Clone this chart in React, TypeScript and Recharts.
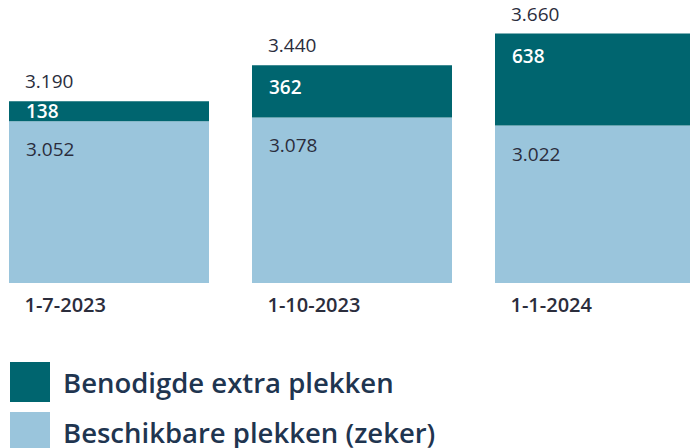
import React from 'react';
import { BarChart, Bar, XAxis, YAxis, LabelList, Legend } from 'recharts';

const dates = ['1-7-2023', '1-10-2023', '1-1-2024'];
const available = [3052, 3078, 3022];
const extra = [138, 362, 638];
const totals = [3190, 3440, 3660];

const DARK = '#00656F';
const LIGHT = '#9AC5DC';
const TEXT = '#2B2D3C';
const FONT = '"Open Sans", "DejaVu Sans", sans-serif';

const data = dates.map((d, i) => ({
  date: d,
  available: available[i],
  extra: extra[i],
  total: totals[i],
}));

// dutch thousands separator
const fmt = (v: number) => String(v).replace(/\B(?=(\d{3})+(?!\d))/g, '.');

const TotalLabel = (props: any) => {
  const { x, y, index } = props;
  return (
    <text x={x + 16} y={y - 13} fill={TEXT} fontSize={19} fontFamily={FONT}>
      {fmt(totals[index])}
    </text>
  );
};

const ExtraLabel = (props: any) => {
  const { x, y, height, value } = props;
  const mid = y + Math.min(height / 2, 22);
  return (
    <text x={x + 17} y={mid + 7} fill="#fff" fontSize={19} fontWeight={600} fontFamily={FONT}>
      {fmt(value)}
    </text>
  );
};

const AvailableLabel = (props: any) => {
  const { x, y, value } = props;
  return (
    <text x={x + 17} y={y + 35} fill={TEXT} fontSize={19} fontFamily={FONT}>
      {fmt(value)}
    </text>
  );
};

const DateTick = (props: any) => {
  const { x, y, payload } = props;
  return (
    <text x={x - 84} y={y + 29} fill={TEXT} fontSize={20} fontWeight={600} fontFamily={FONT}>
      {payload.value}
    </text>
  );
};

const legendItems = [
  { label: 'Benodigde extra plekken', color: DARK },
  { label: 'Beschikbare plekken (zeker)', color: LIGHT },
];

const CustomLegend = () => (
  <div style={{ fontFamily: FONT }}>
    {legendItems.map((item) => (
      <div key={item.label} style={{ display: 'flex', alignItems: 'center', height: 50 }}>
        <div style={{ width: 40, height: 40, background: item.color, marginLeft: 10, marginRight: 13 }} />
        <span style={{ fontSize: 27.5, fontWeight: 600, color: '#1F3550', whiteSpace: 'nowrap' }}>{item.label}</span>
      </div>
    ))}
  </div>
);

export default function App() {
  return (
    <div style={{ position: 'absolute', top: 0, left: 0, width: 690, height: 448, overflow: 'hidden', background: '#fff' }}>
      <BarChart
        width={690}
        height={448}
        data={data}
        margin={{ top: 23, right: -26, left: -13, bottom: 125 }}
      >
        <XAxis
          dataKey="date"
          height={40}
          axisLine={false}
          tickLine={false}
          tickSize={0}
          tickMargin={0}
          tick={<DateTick />}
          interval={0}
        />
        <YAxis hide domain={[1930, 3733]} allowDataOverflow />
        <Legend
          layout="horizontal"
          verticalAlign="middle"
          align="center"
          content={<CustomLegend />}
          wrapperStyle={{ top: 357, left: 0, width: 500, height: 100 }}
        />
        <Bar dataKey="available" stackId="a" fill={LIGHT} barSize={200} isAnimationActive={false}>
          <LabelList dataKey="available" content={<AvailableLabel />} />
        </Bar>
        <Bar dataKey="extra" stackId="a" fill={DARK} barSize={200} isAnimationActive={false}>
          <LabelList dataKey="extra" content={<ExtraLabel />} />
          <LabelList dataKey="total" content={<TotalLabel />} />
        </Bar>
      </BarChart>
    </div>
  );
}
